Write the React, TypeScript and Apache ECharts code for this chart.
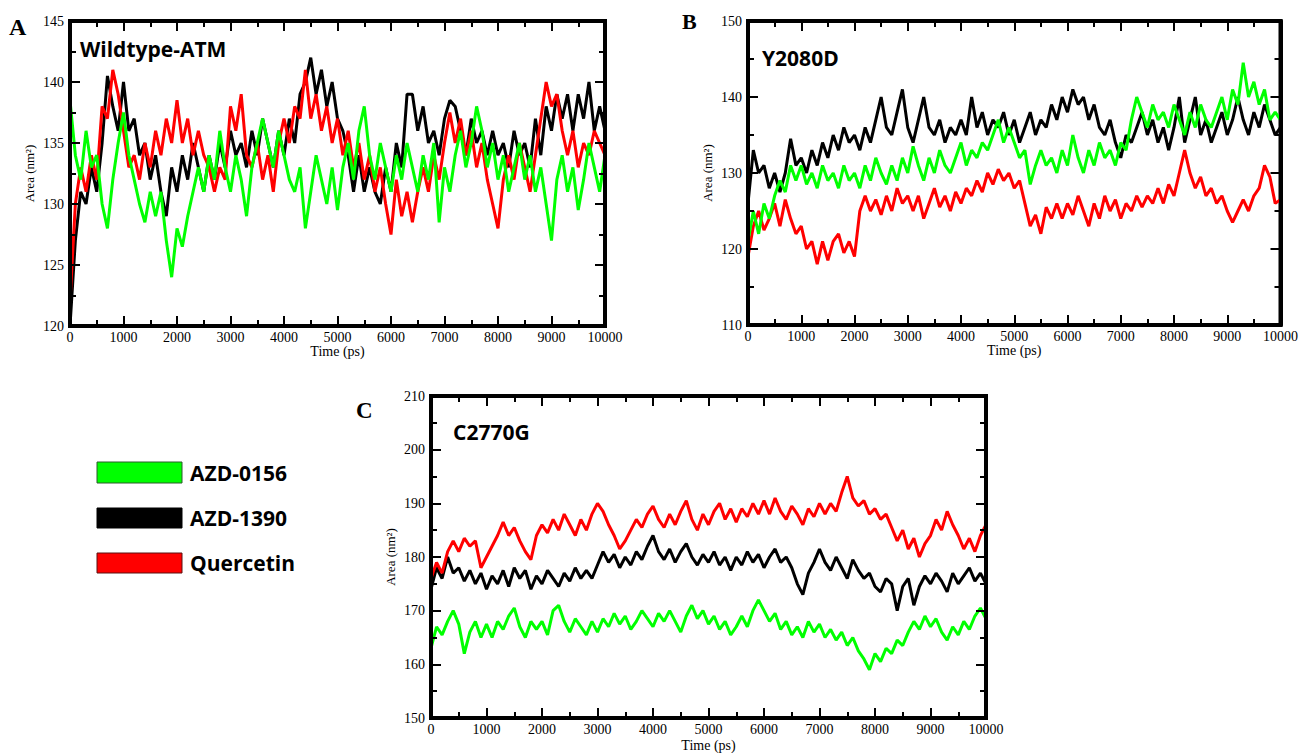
import React, { useEffect, useRef } from "react";
import * as echarts from "echarts";

// Time grid (ps), one sample every 100 ps
const TIME_PS = Array.from({ length: 101 }, (_, i) => i * 100);

const SERIES_NAMES = ["AZD-0156", "AZD-1390", "Quercetin"];
const PANEL_TITLES = ["Wildtype-ATM", "Y2080D", "C2770G"];
const PANEL_LETTERS = ["A", "B", "C"];

// Panel A: Wildtype-ATM
const A_AZD0156 = [
  138.5, 134, 132, 136, 133, 134, 130, 128, 132, 135, 137.5, 134, 132, 130, 128.5, 131, 129, 131, 127, 124,
  128, 126.5, 129, 131, 133, 131, 134, 132, 136, 133, 131, 134, 132, 129, 133, 135, 137, 135, 133, 136,
  134, 132, 131, 133, 128, 131, 134, 132, 130, 133, 129.5, 133, 135, 132, 136, 138, 134, 132, 135, 133,
  131, 134, 132, 135, 133, 131, 134, 132, 135, 128.5, 133, 131, 134, 136, 133, 135, 138, 136, 133, 135,
  132, 134, 131, 133, 135, 132, 134, 131, 133, 130, 127, 132, 134, 131, 133, 129.5, 132, 135, 133, 131,
  134,
];
const A_AZD1390 = [
  120, 127, 131, 130, 133, 131, 135, 140.5, 138, 136, 140, 136, 137, 134, 135, 132, 134, 131, 129, 133,
  131, 134, 132, 135, 133, 131, 134, 132, 135, 133, 136, 134, 135, 133, 136, 134, 137, 135, 133, 136,
  134, 137, 135, 139, 140, 142, 139, 141, 138, 140, 137, 136, 134, 131, 134, 131, 133, 131, 130, 133,
  131, 135, 133, 139, 139, 136, 138, 135, 136, 134, 137, 138.5, 138, 136, 134, 137, 135, 136, 134, 136,
  134, 135, 133, 136, 134, 135, 133, 137, 134, 138, 136, 139, 137, 139, 136, 139, 137, 140, 136, 138,
  136,
];
const A_QUERCETIN = [
  122, 130, 133, 131, 134, 132, 138, 137, 141, 139, 136, 133, 134, 132, 135, 133, 136, 134, 137, 135,
  138.5, 135, 137, 134, 136, 134, 133, 131, 133, 132, 138, 136, 139, 134, 133, 135, 132, 134, 131, 135,
  137, 135, 138, 137, 141, 137, 139, 136, 138, 135, 137, 134, 136, 133, 135, 132, 134, 131, 133, 130,
  127.5, 132, 129, 131, 128.5, 131, 133, 131, 134, 132, 135, 137.5, 135, 137, 134, 136, 133, 135, 132, 130,
  128, 132, 134, 132, 135, 133, 131, 134, 137, 140, 138, 139, 136, 134, 136, 133, 135, 134, 136, 135,
  134,
];

// Panel B: Y2080D
const B_AZD0156 = [
  121, 125, 122, 126, 124, 127, 129, 127.5, 131, 129, 131, 128.5, 130, 128, 131, 129, 130, 128, 131, 129,
  130, 128, 131, 129, 132, 130, 128.5, 131, 129, 132, 130, 133.5, 131, 129, 132, 130, 133, 131, 130, 132,
  134, 131, 133, 132, 134, 133, 135, 137, 134, 136, 134, 132, 133, 128.5, 131, 133, 131, 132, 130, 133,
  131, 135, 132, 130, 133, 131, 134, 132, 133, 131, 134, 133, 137, 140, 138, 136, 139, 137, 138, 136,
  139, 137, 135, 138, 136, 139, 137, 136, 138, 140, 137, 141, 139, 144.5, 140, 142, 139, 141, 137, 138,
  137,
];
const B_AZD1390 = [
  126, 133, 130, 131, 128, 130, 127.5, 130, 134.5, 131, 132, 130, 133, 131, 134, 132, 135, 133, 136, 134,
  135, 133, 136, 134, 137, 140, 136, 135, 138, 141, 136, 134, 137, 140, 136, 135, 137, 134, 136, 135,
  137, 135, 140, 136, 138, 135, 137, 136, 138, 135, 137, 134, 136, 138, 135, 137, 136, 139, 137, 140,
  138, 141, 139, 140, 137, 139, 136, 135, 137, 134, 132, 135, 134, 136, 138, 135, 137, 134, 136, 133,
  136, 140, 134, 137, 140, 135, 137, 134, 136, 138, 135, 137, 140, 137, 135, 138, 136, 139, 137, 135,
  136,
];
const B_QUERCETIN = [
  119, 123, 125, 122.5, 124, 126, 123, 126.5, 124, 122, 123, 120, 121, 118, 121, 118.5, 121, 122, 119.5, 121,
  119, 125, 127, 125, 126.5, 124.5, 127, 125, 128, 126, 127, 125, 127, 124, 126, 128, 125.5, 127, 125, 127.5,
  126, 128, 127, 129, 127.5, 130, 128.5, 130.5, 129, 130, 128, 129, 126, 123, 124.5, 122, 125.5, 124, 126, 124,
  126, 124.5, 127, 125, 123, 126, 124, 127, 125, 126.5, 124, 126, 125, 127, 125.5, 127, 126, 128, 126, 128.5,
  127, 130, 133, 130, 128, 129.5, 127, 128, 126, 127, 125, 123.5, 125, 126.5, 125, 127, 128, 131, 129.5, 126,
  126.5,
];

// Panel C: C2770G
const C_AZD0156 = [
  163, 167, 165.5, 168, 170, 167.5, 162, 166, 168, 165, 167.5, 165, 168, 166.5, 169, 170.5, 167, 165, 168, 166.5,
  168, 165.5, 170, 171, 168, 166, 168.5, 167, 165.5, 168, 166, 168.5, 167, 169.5, 167.5, 169, 166.5, 168, 170, 168.5,
  167, 169.5, 168, 170, 168, 166, 169, 171, 168.5, 170, 167.5, 169, 166.5, 168, 165.5, 167, 169, 167, 170, 172,
  170, 168, 169.5, 166.5, 168, 165.5, 167, 165, 168, 166, 167.5, 165, 166.5, 164.5, 166, 163.5, 165, 162.5, 161, 159,
  162, 160.5, 163, 162, 164.5, 163.5, 166, 168, 166.5, 169, 167, 168.5, 166, 164.5, 167, 165.5, 168, 166.5, 169, 170.5,
  168.5,
];
const C_AZD1390 = [
  174, 178, 176, 180, 177, 178, 175.5, 177.5, 175, 177, 174, 176.5, 175, 177.5, 174.5, 178, 176, 177.5, 174, 176.5,
  175, 177.5, 176, 174.5, 177, 175.5, 178, 176, 177.5, 176, 178.5, 181, 179, 180.5, 178, 180, 178.5, 181, 179.5, 182,
  184, 181, 179.5, 181.5, 179, 181, 182.5, 180, 178.5, 180.5, 179, 181, 178.5, 180, 177.5, 180, 178.5, 181, 179, 180.5,
  178, 180, 181.5, 179, 180, 178, 175, 173, 177, 179, 181.5, 179, 177.5, 180, 178, 176, 179.5, 177.5, 176, 177,
  174.5, 173.5, 176, 175, 170, 174.5, 176, 171, 174.5, 176.5, 175, 177, 175.5, 173.5, 177, 175, 176.5, 178, 175.5, 177,
  175,
];
const C_QUERCETIN = [
  176, 179, 177, 181, 183, 181, 183.5, 182, 183, 178, 180, 182, 184, 186.5, 184, 185.5, 183, 181, 179.5, 184,
  186, 184.5, 187, 185, 188, 186, 184, 187, 185, 188, 190, 188.5, 186, 184, 181.5, 183, 185, 187, 185.5, 188,
  189.5, 187, 185.5, 188, 186, 188.5, 190.5, 187, 185, 188, 186, 188.5, 190, 187, 189, 186.5, 189, 187.5, 190, 188,
  190.5, 188, 191, 188.5, 187, 189.5, 188, 186, 189, 187.5, 190, 188, 190, 188.5, 192, 195, 191, 189.5, 190.5, 188,
  189, 187, 188, 185.5, 183, 185, 181.5, 183.5, 180, 182.5, 184, 187, 185, 188.5, 186, 184, 181.5, 183.5, 181, 184,
  186,
];

const PANELS = [
  { green: A_AZD0156, black: A_AZD1390, red: A_QUERCETIN, yMin: 120, yMax: 145, yStep: 5 },
  { green: B_AZD0156, black: B_AZD1390, red: B_QUERCETIN, yMin: 110, yMax: 150, yStep: 10 },
  { green: C_AZD0156, black: C_AZD1390, red: C_QUERCETIN, yMin: 150, yMax: 210, yStep: 10 },
];

const GRIDS = [
  { left: 70, top: 21, width: 535, height: 305 },
  { left: 748, top: 21, width: 534, height: 304 },
  { left: 431, top: 396, width: 555, height: 322 },
];

const GREEN = "#00ff00";
const BLACK = "#000000";
const RED = "#ff0000";
const SERIF = "'Liberation Serif', 'Times New Roman', serif";
const SANS = "'Open Sans', 'Noto Sans', sans-serif";

function pairs(vals: number[]) {
  return TIME_PS.map((t, i) => [t, vals[i]]);
}

const plain = (v: number) => String(v);

function frameParts() {
  return {
    axisLine: { show: true, onZero: false, lineStyle: { color: "#000000", width: 4, opacity: 1 } },
    axisTick: { show: true, inside: true, length: 10, lineStyle: { color: "#000000", width: 2, opacity: 1 } },
    minorTick: { show: true, splitNumber: 2, length: 6, lineStyle: { color: "#000000", width: 2, opacity: 1 } },
    splitLine: { show: false },
    minorSplitLine: { show: false },
    z: 10,
  };
}

function buildOption() {
  const xAxis: any[] = [];
  const yAxis: any[] = [];
  const series: any[] = [];
  PANELS.forEach((p, g) => {
    const isC = g === 2;
    xAxis.push({
      type: "value",
      gridIndex: g,
      min: 0,
      max: 10000,
      interval: 1000,
      position: "bottom",
      name: "Time (ps)",
      nameLocation: "middle",
      nameGap: isC ? 20 : 17,
      nameTextStyle: { color: "#000", fontFamily: SERIF, fontSize: 14 },
      axisLabel: { margin: 4, color: "#000", fontFamily: SERIF, fontSize: 14, formatter: plain },
      ...frameParts(),
    });
    xAxis.push({
      type: "value",
      gridIndex: g,
      min: 0,
      max: 10000,
      interval: 1000,
      position: "top",
      axisLabel: { show: false },
      ...frameParts(),
    });
    yAxis.push({
      type: "value",
      gridIndex: g,
      min: p.yMin,
      max: p.yMax,
      interval: p.yStep,
      position: "left",
      name: "Area (nm²)",
      nameLocation: "middle",
      nameRotate: 90,
      nameGap: 34,
      nameTextStyle: { color: "#000", fontFamily: SERIF, fontSize: 13 },
      axisLabel: { margin: 6, color: "#000", fontFamily: SERIF, fontSize: 14, formatter: plain },
      ...frameParts(),
    });
    yAxis.push({
      type: "value",
      gridIndex: g,
      min: p.yMin,
      max: p.yMax,
      interval: p.yStep,
      position: "right",
      axisLabel: { show: false },
      ...frameParts(),
    });
    const mk = (name: string, color: string, vals: number[], z: number) => ({
      type: "line",
      name,
      xAxisIndex: g * 2,
      yAxisIndex: g * 2,
      data: pairs(vals),
      showSymbol: false,
      symbol: "none",
      lineStyle: { color, width: 3 },
      itemStyle: { color },
      z,
    });
    series.push(mk(SERIES_NAMES[1], BLACK, p.black, 2));
    series.push(mk(SERIES_NAMES[2], RED, p.red, 3));
    series.push(mk(SERIES_NAMES[0], GREEN, p.green, 4));
  });

  const letterPos = [
    { x: 9, y: 27, size: 24 },
    { x: 682, y: 21, size: 22 },
    { x: 356, y: 410, size: 23 },
  ];
  const titlePos = [
    { x: 80, y: 49 },
    { x: 762, y: 58 },
    { x: 453, y: 432 },
  ];
  const graphic: any[] = [];
  PANEL_LETTERS.forEach((l, i) => {
    graphic.push({
      type: "text",
      x: letterPos[i].x,
      y: letterPos[i].y,
      z: 100,
      style: {
        text: l,
        fill: "#000",
        fontFamily: SERIF,
        fontWeight: "bold",
        fontSize: letterPos[i].size,
        verticalAlign: "middle",
        align: "left",
      },
    });
  });
  PANEL_TITLES.forEach((t, i) => {
    graphic.push({
      type: "text",
      x: titlePos[i].x,
      y: titlePos[i].y,
      z: 100,
      style: {
        text: t,
        fill: "#000",
        fontFamily: SANS,
        fontWeight: "bold",
        fontSize: 21,
        verticalAlign: "middle",
        align: "left",
      },
    });
  });
  const legendItems = [
    { name: SERIES_NAMES[0], color: GREEN, stroke: "#2d5a2d", y: 462, h: 21 },
    { name: SERIES_NAMES[1], color: BLACK, stroke: "#000", y: 508, h: 20 },
    { name: SERIES_NAMES[2], color: RED, stroke: "#5a1010", y: 553, h: 20 },
  ];
  legendItems.forEach((it) => {
    graphic.push({
      type: "rect",
      shape: { x: 97, y: it.y, width: 85, height: it.h },
      style: { fill: it.color, stroke: it.stroke, lineWidth: 1 },
    });
    graphic.push({
      type: "text",
      x: 190,
      y: it.y + it.h / 2,
      style: {
        text: it.name,
        fill: "#000",
        fontFamily: SANS,
        fontWeight: "bold",
        fontSize: 21,
        verticalAlign: "middle",
        align: "left",
      },
    });
  });

  return {
    animation: false,
    backgroundColor: "#ffffff",
    grid: GRIDS.map((g) => ({
      ...g,
      containLabel: false,
      show: true,
      borderColor: "#000000",
      borderWidth: 4,
      backgroundColor: "transparent",
    })),
    xAxis,
    yAxis,
    series,
    graphic,
  };
}

export default function App() {
  const ref = useRef<HTMLDivElement | null>(null);
  useEffect(() => {
    if (!ref.current) return;
    const chart = echarts.init(ref.current, undefined, { renderer: "svg" });
    chart.setOption(buildOption() as any);
    return () => {
      chart.dispose();
    };
  }, []);
  return (
    <div
      ref={ref}
      style={{ position: "absolute", left: 0, top: 0, width: 1301, height: 753, background: "#fff" }}
    />
  );
}
